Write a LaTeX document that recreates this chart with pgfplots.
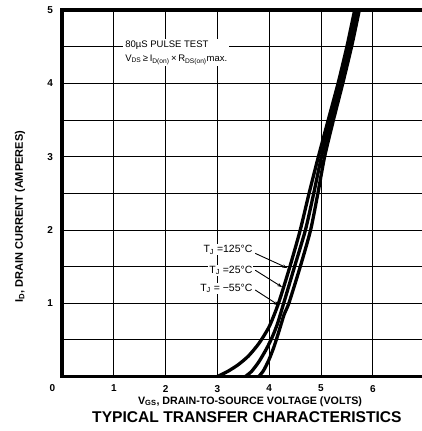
\documentclass[border=0pt]{standalone}
\usepackage{pgfplots}
\pgfplotsset{compat=1.18}
\usepackage{fontspec}
\setmainfont{Liberation Sans}
\usetikzlibrary{arrows.meta}

\begin{document}
\begin{tikzpicture}
\useasboundingbox (-62pt,-54.5pt) rectangle (359pt,376.5pt);
\begin{axis}[
  at={(0pt,0pt)}, anchor=south west,
  scale only axis, width=362.6pt, height=366.5pt,
  xmin=0, xmax=7, ymin=0, ymax=5,
  xtick={1,2,3,4,5,6,7},
  ytick={1,2,3,4,5},
  minor ytick={0.5,1.5,2.5,3.5,4.5},
  grid=both,
  major grid style={black, line width=0.8pt},
  minor grid style={black, line width=0.8pt},
  major tick length=0pt, minor tick length=0pt,
  axis line style={black, line width=3.5pt},
  /pgf/number format/assume math mode=true,
  xticklabel style={font=\fontsize{10}{12}\selectfont\bfseries, yshift=-5pt},
  yticklabel style={font=\fontsize{10}{12}\selectfont\bfseries, xshift=-5.5pt},
  clip=false,
]
% T_J = 125 C (leftmost at low current)
\addplot[black, line width=3.3pt, line join=round, smooth, tension=0.4] coordinates {
 (3.00,0) (3.20,0.07) (3.40,0.16) (3.60,0.28) (3.80,0.45) (4.00,0.68)
 (4.18,1.0) (4.40,1.5) (4.60,2.0) (4.77,2.5) (4.95,3.0) (5.14,3.5)
 (5.33,4.0) (5.50,4.5) (5.65,5.0)};
% T_J = 25 C
\addplot[black, line width=3.3pt, line join=round, smooth, tension=0.4] coordinates {
 (3.54,0) (3.66,0.07) (3.80,0.20) (3.95,0.38) (4.06,0.54) (4.16,0.72)
 (4.28,1.0) (4.49,1.5) (4.70,2.0) (4.86,2.5) (5.01,3.0) (5.19,3.5)
 (5.375,4.0) (5.545,4.5) (5.695,5.0)};
% T_J = -55 C
\addplot[black, line width=3.3pt, line join=round, smooth, tension=0.4] coordinates {
 (3.80,0) (3.89,0.08) (3.99,0.22) (4.09,0.40) (4.19,0.62) (4.29,0.85)
 (4.38,1.0) (4.60,1.5) (4.80,2.0) (4.94,2.5) (5.07,3.0) (5.24,3.5)
 (5.42,4.0) (5.59,4.5) (5.74,5.0)};

% annotations
\node[anchor=west, fill=white, inner sep=2pt, align=left,
      font=\fontsize{9.5}{13.5}\selectfont] at (axis cs:1.18,4.415)
  {80µS PULSE TEST\\V\textsubscript{DS}\,≥\,I\textsubscript{D(on)}\,×\,R\textsubscript{DS(on)}max.};

\node[anchor=east, fill=white, inner sep=1pt, font=\fontsize{10.5}{12}\selectfont]
  at (axis cs:3.70,1.73) {T\textsubscript{J} =125°C};
\node[anchor=east, fill=white, inner sep=1pt, font=\fontsize{10.5}{12}\selectfont]
  at (axis cs:3.70,1.45) {T\textsubscript{J} =25°C};
\node[anchor=east, fill=white, inner sep=1pt, font=\fontsize{10.5}{12}\selectfont]
  at (axis cs:3.70,1.20) {T\textsubscript{J} = −55°C};

\draw[black, line width=0.9pt, -{Stealth[length=5pt,width=3.5pt]}]
  (axis cs:3.73,1.68) -- (axis cs:4.35,1.48);
\draw[black, line width=0.9pt, -{Stealth[length=5pt,width=3.5pt]}]
  (axis cs:3.73,1.45) -- (axis cs:4.25,1.22);
\draw[black, line width=0.9pt, -{Stealth[length=5pt,width=3.5pt]}]
  (axis cs:3.73,1.18) -- (axis cs:4.19,0.97);

% corner zero
\node[font=\fontsize{10}{12}\selectfont\bfseries] at (axis cs:0,0) [xshift=-9.5pt, yshift=-12pt] {0};

% axis labels and title
\node[font=\fontsize{10.7}{12}\selectfont\bfseries] at (axis cs:3.63,0) [yshift=-25pt]
  {V\textsubscript{GS}, DRAIN-TO-SOURCE VOLTAGE (VOLTS)};
\node[font=\fontsize{15.6}{17}\selectfont\bfseries] at (axis cs:3.57,0) [yshift=-40.5pt]
  {TYPICAL TRANSFER CHARACTERISTICS};
\node[xshift=-42pt, rotate=90, font=\fontsize{11}{12}\selectfont\bfseries] at (axis cs:0,2.18)
  {I\textsubscript{D}, DRAIN CURRENT (AMPERES)};
\end{axis}
\end{tikzpicture}
\end{document}
